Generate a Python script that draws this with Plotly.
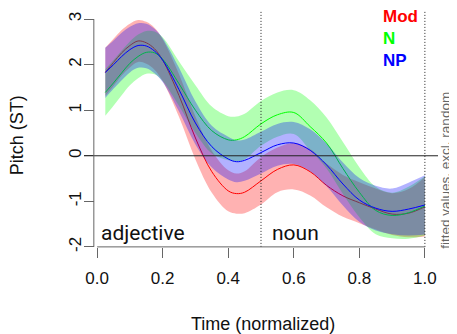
import plotly.graph_objects as go

# ---------------- data ----------------
t = [0.025, 0.05, 0.075, 0.1, 0.125, 0.15, 0.175, 0.2, 0.25, 0.3, 0.35, 0.4, 0.425,
     0.45, 0.5, 0.55, 0.6, 0.65, 0.7, 0.75, 0.8, 0.85, 0.9, 0.95, 1.0]

mod_fit = [1.83, 2.05, 2.26, 2.42, 2.52, 2.48, 2.35, 2.10, 1.32, 0.39, -0.35, -0.77, -0.83,
           -0.80, -0.55, -0.30, -0.20, -0.35, -0.65, -0.88, -1.03, -1.17, -1.28, -1.26, -1.12]
mod_hi = [2.37, 2.57, 2.76, 2.90, 2.98, 2.94, 2.81, 2.56, 1.79, 0.86, 0.11, -0.32, -0.39,
          -0.34, -0.03, 0.18, 0.28, 0.15, -0.17, -0.42, -0.58, -0.72, -0.82, -0.73, -0.47]
mod_lo = [1.31, 1.53, 1.76, 1.94, 2.06, 2.02, 1.89, 1.64, 0.85, -0.08, -0.81, -1.22, -1.27,
          -1.26, -1.07, -0.80, -0.74, -0.87, -1.13, -1.34, -1.48, -1.62, -1.74, -1.79, -1.77]

n_fit = [1.39, 1.60, 1.82, 2.03, 2.18, 2.27, 2.26, 2.12, 1.58, 1.00, 0.55, 0.35, 0.35,
         0.42, 0.70, 0.90, 0.95, 0.64, 0.28, -0.28, -0.80, -1.20, -1.31, -1.25, -1.10]
n_hi = [1.90, 2.10, 2.31, 2.51, 2.66, 2.74, 2.73, 2.60, 2.07, 1.55, 1.08, 0.87, 0.86,
        0.92, 1.20, 1.39, 1.44, 1.22, 0.84, 0.30, -0.25, -0.68, -0.81, -0.68, -0.45]
n_lo = [0.88, 1.10, 1.33, 1.55, 1.70, 1.80, 1.79, 1.64, 1.09, 0.50, 0.05, -0.10, -0.13,
        -0.08, 0.22, 0.42, 0.48, 0.12, -0.28, -0.84, -1.35, -1.72, -1.81, -1.82, -1.75]

np_fit = [1.83, 2.00, 2.18, 2.33, 2.42, 2.41, 2.30, 2.10, 1.45, 0.72, 0.20, -0.07, -0.13,
          -0.10, 0.07, 0.24, 0.28, 0.12, -0.20, -0.62, -0.97, -1.15, -1.22, -1.17, -1.08]
np_hi = [2.37, 2.53, 2.70, 2.83, 2.91, 2.90, 2.79, 2.58, 1.93, 1.19, 0.66, 0.42, 0.34,
         0.36, 0.53, 0.70, 0.74, 0.58, 0.27, -0.15, -0.49, -0.66, -0.72, -0.59, -0.43]
np_lo = [1.27, 1.47, 1.66, 1.83, 1.93, 1.92, 1.81, 1.62, 0.97, 0.25, -0.26, -0.52, -0.58,
         -0.55, -0.39, -0.22, -0.18, -0.34, -0.67, -1.09, -1.45, -1.64, -1.72, -1.75, -1.73]

x_ticks = [0.0, 0.2, 0.4, 0.6, 0.8, 1.0]
y_ticks = [-2, -1, 0, 1, 2, 3]
y_tick_text = ["-2", "-1", "0", "1", "2", "3"]
boundaries = [0.5, 1.0]
legend_names = ["Mod", "N", "NP"]

series = [
    ("Mod", mod_fit, mod_lo, mod_hi, "rgb(255,0,0)", "rgba(255,0,0,0.3)"),
    ("N", n_fit, n_lo, n_hi, "rgb(0,255,0)", "rgba(0,255,0,0.3)"),
    ("NP", np_fit, np_lo, np_hi, "rgb(0,0,255)", "rgba(0,0,255,0.3)"),
]

fig = go.Figure()
for name, fit, lo, hi, col, fcol in series:
    fig.add_trace(go.Scatter(x=t, y=lo, mode="lines", line=dict(width=0, shape="spline"),
                             hoverinfo="skip", showlegend=False))
    fig.add_trace(go.Scatter(x=t, y=hi, mode="lines", line=dict(width=0, shape="spline"),
                             fill="tonexty", fillcolor=fcol, hoverinfo="skip", showlegend=False))
    fig.add_trace(go.Scatter(x=t, y=fit, mode="lines", name=name,
                             line=dict(color=col, width=1, shape="spline"), showlegend=False))

# reference lines
fig.add_shape(type="line", xref="paper", x0=0, x1=1, yref="y", y0=0, y1=0,
              line=dict(color="#222", width=1))
for b in boundaries:
    fig.add_shape(type="line", xref="x", x0=b, x1=b, yref="y", y0=y_ticks[0], y1=3.2,
                  line=dict(color="#222", width=1, dash="1px,2px"))

# axis lines (R style, only over the tick span)
fig.add_shape(type="line", xref="x", x0=x_ticks[0], x1=x_ticks[-1], yref="y",
              y0=y_ticks[0], y1=y_ticks[0], line=dict(color="#666", width=1))
fig.add_shape(type="line", xref="paper", x0=0.0278, x1=0.0278, yref="y",
              y0=y_ticks[0], y1=y_ticks[-1], line=dict(color="#666", width=1))

# texts
fig.add_annotation(x=0.005, y=y_ticks[0], xref="x", yref="y", text="adjective",
                   xanchor="left", yanchor="bottom", showarrow=False,
                   font=dict(family="Roboto", size=21, color="#111"))
fig.add_annotation(x=0.527, y=y_ticks[0], xref="x", yref="y", text="noun",
                   xanchor="left", yanchor="bottom", showarrow=False,
                   font=dict(family="Roboto", size=21, color="#111"))
leg_cols = ["#ff0000", "#00ff00", "#0000ff"]
leg_y = [3.05, 2.57, 2.09]
for nm, c, yy in zip(legend_names, leg_cols, leg_y):
    fig.add_annotation(x=0.865, y=yy, xref="x", yref="y", text="<b>" + nm + "</b>",
                       xanchor="left", yanchor="middle", showarrow=False,
                       font=dict(family="Liberation Sans", size=17, color=c))
fig.add_annotation(x=1.022, y=0.35, xref="paper", yref="paper", text="fitted values, excl. random",
                   textangle=-90, showarrow=False, xanchor="center", yanchor="middle",
                   font=dict(family="Liberation Sans", size=13.5, color="#666"))
fig.add_annotation(x=0.507, y=-0.276, xref="paper", yref="paper", text="Time (normalized)",
                   showarrow=False, xanchor="center", yanchor="middle",
                   font=dict(family="Liberation Sans", size=18, color="#111"))
fig.add_annotation(x=-0.187, y=0.49, xref="paper", yref="paper", text="Pitch (ST)",
                   textangle=-90, showarrow=False, xanchor="center", yanchor="middle",
                   font=dict(family="Liberation Sans", size=18, color="#111"))

# page body has an 8px default margin, so the figure is 8px smaller and margins shifted
fig.update_layout(
    width=449, height=326,
    margin=dict(l=76, r=19, t=2, b=78),
    paper_bgcolor="white", plot_bgcolor="white",
    showlegend=False,
    xaxis=dict(range=[-0.04, 1.04], showgrid=False, zeroline=False, showline=False,
               tickvals=x_ticks, tickformat=".1f", ticks="outside", ticklen=10,
               tickcolor="#666", tickwidth=1, anchor="free", position=0.037,
               ticklabelstandoff=6,
               tickfont=dict(family="Liberation Sans", size=17, color="#111")),
    yaxis=dict(range=[-2.2, 3.2], showgrid=False, zeroline=False, showline=False,
               tickvals=y_ticks, ticktext=y_tick_text, ticks="outside", ticklen=10,
               tickcolor="#666", tickwidth=1, tickangle=-90, anchor="free", position=0.0278,
               ticklabelstandoff=-4,
               tickfont=dict(family="Liberation Sans", size=17, color="#111")),
)

fig.write_html("out.html")
